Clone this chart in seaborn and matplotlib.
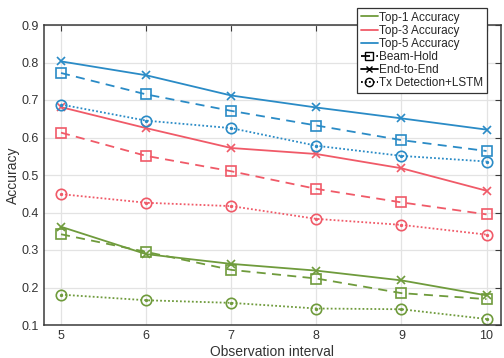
import matplotlib
matplotlib.use("Agg")
import matplotlib.pyplot as plt
import seaborn as sns
import pandas as pd
from matplotlib.lines import Line2D

intervals = [5, 6, 7, 8, 9, 10]

top1_e2e = [0.362, 0.289, 0.263, 0.245, 0.219, 0.179]
top1_beam = [0.342, 0.295, 0.247, 0.224, 0.185, 0.169]
top1_tx = [0.181, 0.166, 0.159, 0.144, 0.142, 0.116]

top3_e2e = [0.681, 0.625, 0.572, 0.556, 0.518, 0.458]
top3_beam = [0.613, 0.551, 0.510, 0.463, 0.427, 0.395]
top3_tx = [0.449, 0.426, 0.417, 0.383, 0.367, 0.341]

top5_e2e = [0.803, 0.766, 0.712, 0.680, 0.651, 0.621]
top5_beam = [0.772, 0.715, 0.671, 0.632, 0.593, 0.564]
top5_tx = [0.688, 0.645, 0.625, 0.578, 0.551, 0.536]

metrics = ["Top-1 Accuracy", "Top-3 Accuracy", "Top-5 Accuracy"]
methods = ["Beam-Hold", "End-to-End", "Tx Detection+LSTM"]

series = {
    ("Top-1 Accuracy", "Beam-Hold"): top1_beam,
    ("Top-1 Accuracy", "End-to-End"): top1_e2e,
    ("Top-1 Accuracy", "Tx Detection+LSTM"): top1_tx,
    ("Top-3 Accuracy", "Beam-Hold"): top3_beam,
    ("Top-3 Accuracy", "End-to-End"): top3_e2e,
    ("Top-3 Accuracy", "Tx Detection+LSTM"): top3_tx,
    ("Top-5 Accuracy", "Beam-Hold"): top5_beam,
    ("Top-5 Accuracy", "End-to-End"): top5_e2e,
    ("Top-5 Accuracy", "Tx Detection+LSTM"): top5_tx,
}

rows = []
for (m, meth), vals in series.items():
    for x, v in zip(intervals, vals):
        rows.append({"interval": x, "acc": v, "metric": m, "method": meth})
df = pd.DataFrame(rows)

colors = {"Top-1 Accuracy": "#6F9B3C", "Top-3 Accuracy": "#F05A68", "Top-5 Accuracy": "#2A8BC6"}
lstyles = {"Beam-Hold": (0, (5, 3.5)), "End-to-End": "-", "Tx Detection+LSTM": (0, (1, 1.2))}
markers = {"Beam-Hold": "s", "End-to-End": "x", "Tx Detection+LSTM": "o"}
msizes = {"Beam-Hold": 6.5, "End-to-End": 6, "Tx Detection+LSTM": 7.5}

sns.set_style("white")
plt.rcParams["font.family"] = ["Liberation Sans", "DejaVu Sans"]

fig = plt.figure(figsize=(5.04, 3.58), dpi=100)
ax = fig.add_axes([44 / 504, 1 - 325 / 358, 457 / 504, 300 / 358])

axcol = "#3a3a3a"
for m in metrics:
    for meth in methods:
        sub = df[(df.metric == m) & (df.method == meth)]
        sns.lineplot(data=sub, x="interval", y="acc", ax=ax, color=colors[m],
                     linestyle=lstyles[meth], linewidth=1.3, marker=markers[meth],
                     markersize=msizes[meth], markerfacecolor="none",
                     markeredgecolor=colors[m], markeredgewidth=1.2, legend=False)
        if meth == "Tx Detection+LSTM":
            ax.scatter(sub["interval"], sub["acc"], s=2, color=colors[m], zorder=3)

ax.set_xlim(4.8, 10.17)
ax.set_ylim(0.1, 0.9)
ax.set_xticks(intervals)
ax.set_yticks([0.1, 0.2, 0.3, 0.4, 0.5, 0.6, 0.7, 0.8, 0.9])
ax.set_yticklabels([f"{v:.1f}" for v in [0.1, 0.2, 0.3, 0.4, 0.5, 0.6, 0.7, 0.8, 0.9]])
ax.grid(True, color="#e3e3e3", linewidth=0.9)
ax.set_axisbelow(True)
ax.tick_params(direction="in", length=4, colors=axcol, labelsize=9, top=True, right=True,
               labelcolor="#333333")
for s in ax.spines.values():
    s.set_color(axcol)
    s.set_linewidth(1.1)
ax.set_xlabel("Observation interval", fontsize=10, color="#333333", labelpad=2)
ax.set_ylabel("Accuracy", fontsize=10, color="#333333", labelpad=1)

handles = [Line2D([], [], color=colors[m], lw=1.3) for m in metrics]
handles += [
    Line2D([], [], color="black", lw=1.3, linestyle=lstyles["Beam-Hold"], marker="s",
           markersize=5.5, markerfacecolor="none"),
    Line2D([], [], color="black", lw=1.3, linestyle="-", marker="x", markersize=5),
    Line2D([], [], color="black", lw=1.3, linestyle=lstyles["Tx Detection+LSTM"], marker="o",
           markersize=6, markerfacecolor="none"),
]
labels = metrics + methods
leg = fig.legend(handles, labels, loc="upper right", bbox_to_anchor=(487 / 504, 1 - 8 / 358),
                 fontsize=8.5, frameon=True, fancybox=False, framealpha=1, edgecolor="#333333",
                 handlelength=1.4, handletextpad=0.15, borderpad=0.3, labelspacing=0.1,
                 borderaxespad=0)
leg.get_frame().set_linewidth(0.9)

fig.savefig("out.png", dpi=100)
